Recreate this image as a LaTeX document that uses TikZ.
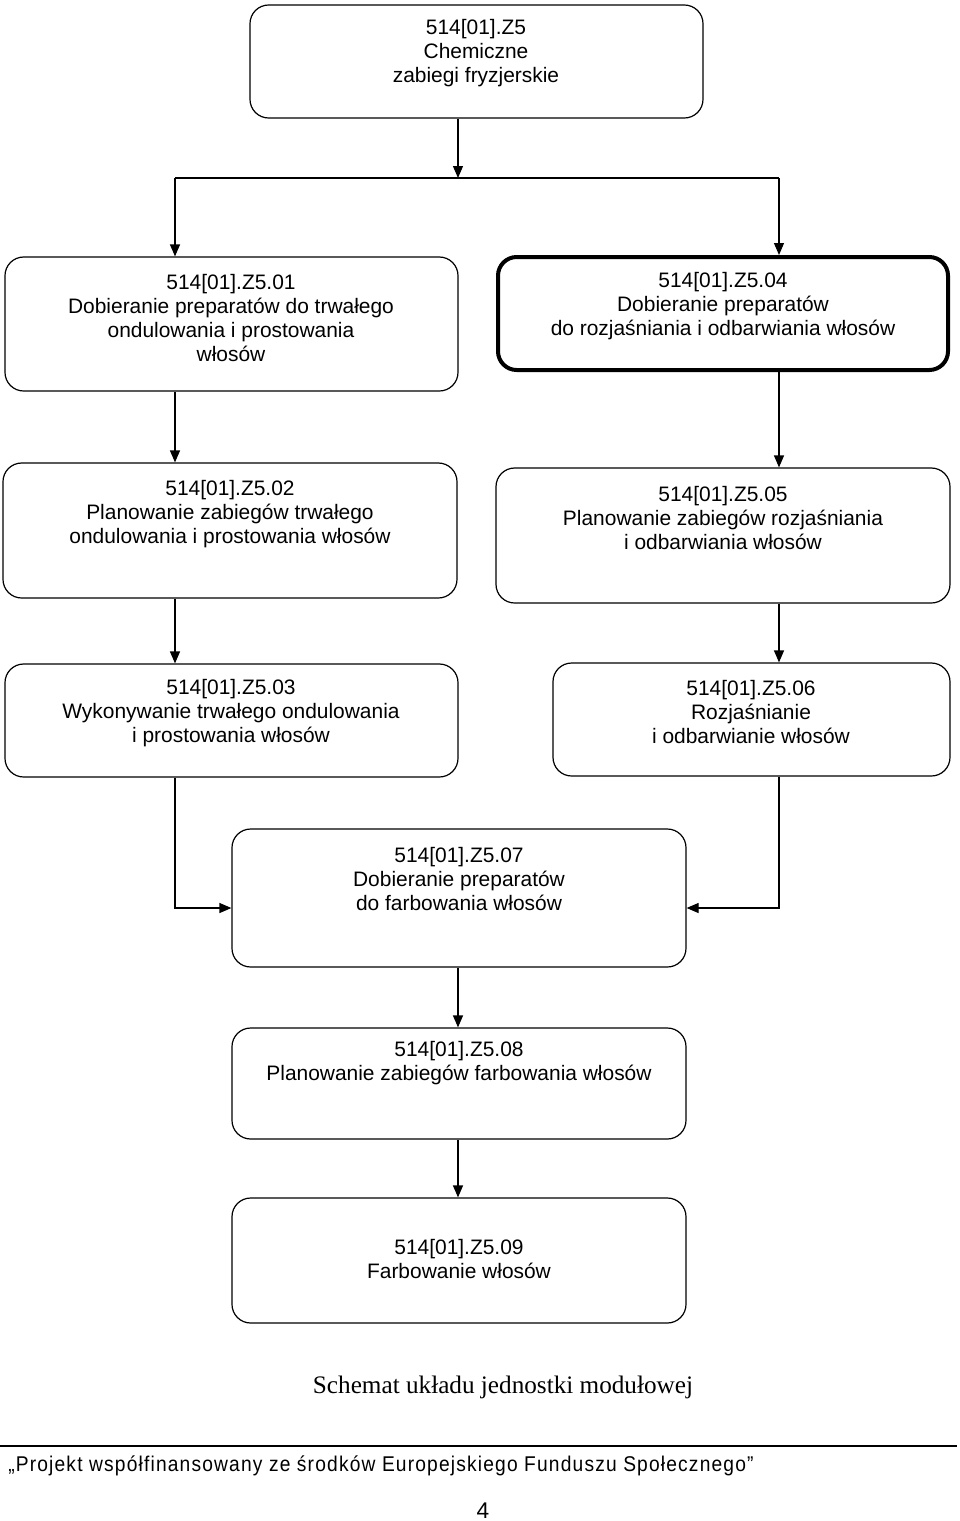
\documentclass[tikz,border=0pt]{standalone}
\usepackage{fontspec}
\setmainfont{Liberation Sans}
\newfontfamily\captionface{Liberation Serif}
\newfontfamily\footface[FakeStretch=0.9,LetterSpace=5.5]{Liberation Sans}
\usetikzlibrary{arrows.meta}

\tikzset{
  box/.style={draw, line width=0.9pt, rounded corners=14pt, inner sep=0pt},
  boldbox/.style={box, line width=3pt},
  boxsize/.style 2 args={minimum width=#1*0.75pt, minimum height=#2*0.75pt},
  txt/.style={align=center, inner sep=0pt, font=\fontsize{15.7}{18}\selectfont},
  link/.style={line width=0.9pt}
}

\begin{document}
\begin{tikzpicture}[x=0.75pt, y=-0.75pt, >={Triangle[length=9pt,width=7.5pt]}]
    \useasboundingbox (0,0) rectangle (960,1521);

    % Boxes
    \node[box, boxsize={453}{113}] (z5) at (476.5,61.5) {};
    \node[box, boxsize={453}{134}] (z501) at (231.5,324) {};
    \node[boldbox, boxsize={450}{113}] (z504) at (723,313.5) {};
    \node[box, boxsize={454}{135}] (z502) at (230,530.5) {};
    \node[box, boxsize={454}{135}] (z505) at (723,535.5) {};
    \node[box, boxsize={453}{113}] (z503) at (231.5,720.5) {};
    \node[box, boxsize={397}{113}] (z506) at (751.5,719.5) {};
    \node[box, boxsize={454}{138}] (z507) at (459,898) {};
    \node[box, boxsize={454}{111}] (z508) at (459,1083.5) {};
    \node[box, boxsize={454}{125}] (z509) at (459,1260.5) {};

    % Box texts
    \node[txt] (z5txt) at (476,53) {514[01].Z5\\Chemiczne\\zabiegi fryzjerskie};
    \node[txt] (z501txt) at (231,318) {514[01].Z5.01\\Dobieranie preparatów do trwałego\\ondulowania i prostowania\\włosów};
    \node[txt] (z504txt) at (723,306) {514[01].Z5.04\\Dobieranie preparatów\\do rozjaśniania i odbarwiania włosów};
    \node[txt] (z502txt) at (230,514) {514[01].Z5.02\\Planowanie zabiegów trwałego\\ondulowania i prostowania włosów};
    \node[txt] (z505txt) at (723,518) {514[01].Z5.05\\Planowanie zabiegów rozjaśniania\\i odbarwiania włosów};
    \node[txt] (z503txt) at (231,713) {514[01].Z5.03\\Wykonywanie trwałego ondulowania\\i prostowania włosów};
    \node[txt] (z506txt) at (751,712) {514[01].Z5.06\\Rozjaśnianie\\i odbarwianie włosów};
    \node[txt] (z507txt) at (459,879) {514[01].Z5.07\\Dobieranie preparatów\\do farbowania włosów};
    \node[txt] (z508txt) at (459,1063) {514[01].Z5.08\\Planowanie zabiegów farbowania włosów};
    \node[txt] (z509txt) at (459,1259) {514[01].Z5.09\\Farbowanie włosów};

    % Lanes
    \coordinate (laneM) at (458,178);
    \coordinate (laneL) at (175,178);
    \coordinate (laneR) at (779,178);

    % Fork under the top box
    \draw[link,->] (laneM |- z5.south) -- (laneM);
    \draw[link] (laneL) -- (laneR);
    \draw[link,->] (laneL) -- (laneL |- z501.north);
    \draw[link,->] (laneR) -- (laneR |- z504.north);

    % Left column
    \draw[link,->] (laneL |- z501.south) -- (laneL |- z502.north);
    \draw[link,->] (laneL |- z502.south) -- (laneL |- z503.north);

    % Right column
    \draw[link,->] (laneR |- z504.south) -- (laneR |- z505.north);
    \draw[link,->] (laneR |- z505.south) -- (laneR |- z506.north);

    % Joining into 07
    \draw[link,->] (laneL |- z503.south) |- ([yshift=-7.5pt]z507.west);
    \draw[link,->] (laneR |- z506.south) |- ([yshift=-7.5pt]z507.east);

    % Bottom chain
    \draw[link,->] (laneM |- z507.south) -- (laneM |- z508.north);
    \draw[link,->] (laneM |- z508.south) -- (laneM |- z509.north);

    % Caption and footer
    \node[font=\captionface\fontsize{18.9}{22}\selectfont] (caption) at (503,1387) {Schemat układu jednostki modułowej};
    \draw[line width=1.1pt] (0,1446) -- (957,1446);
    \node[anchor=west, inner sep=0pt, font=\footface\fontsize{16}{19}\selectfont] (footer) at (8,1466) {„Projekt współfinansowany ze środków Europejskiego Funduszu Społecznego”};
    \node[font=\fontsize{17}{20}\selectfont] (page) at (483,1511) {4};
\end{tikzpicture}
\end{document}
